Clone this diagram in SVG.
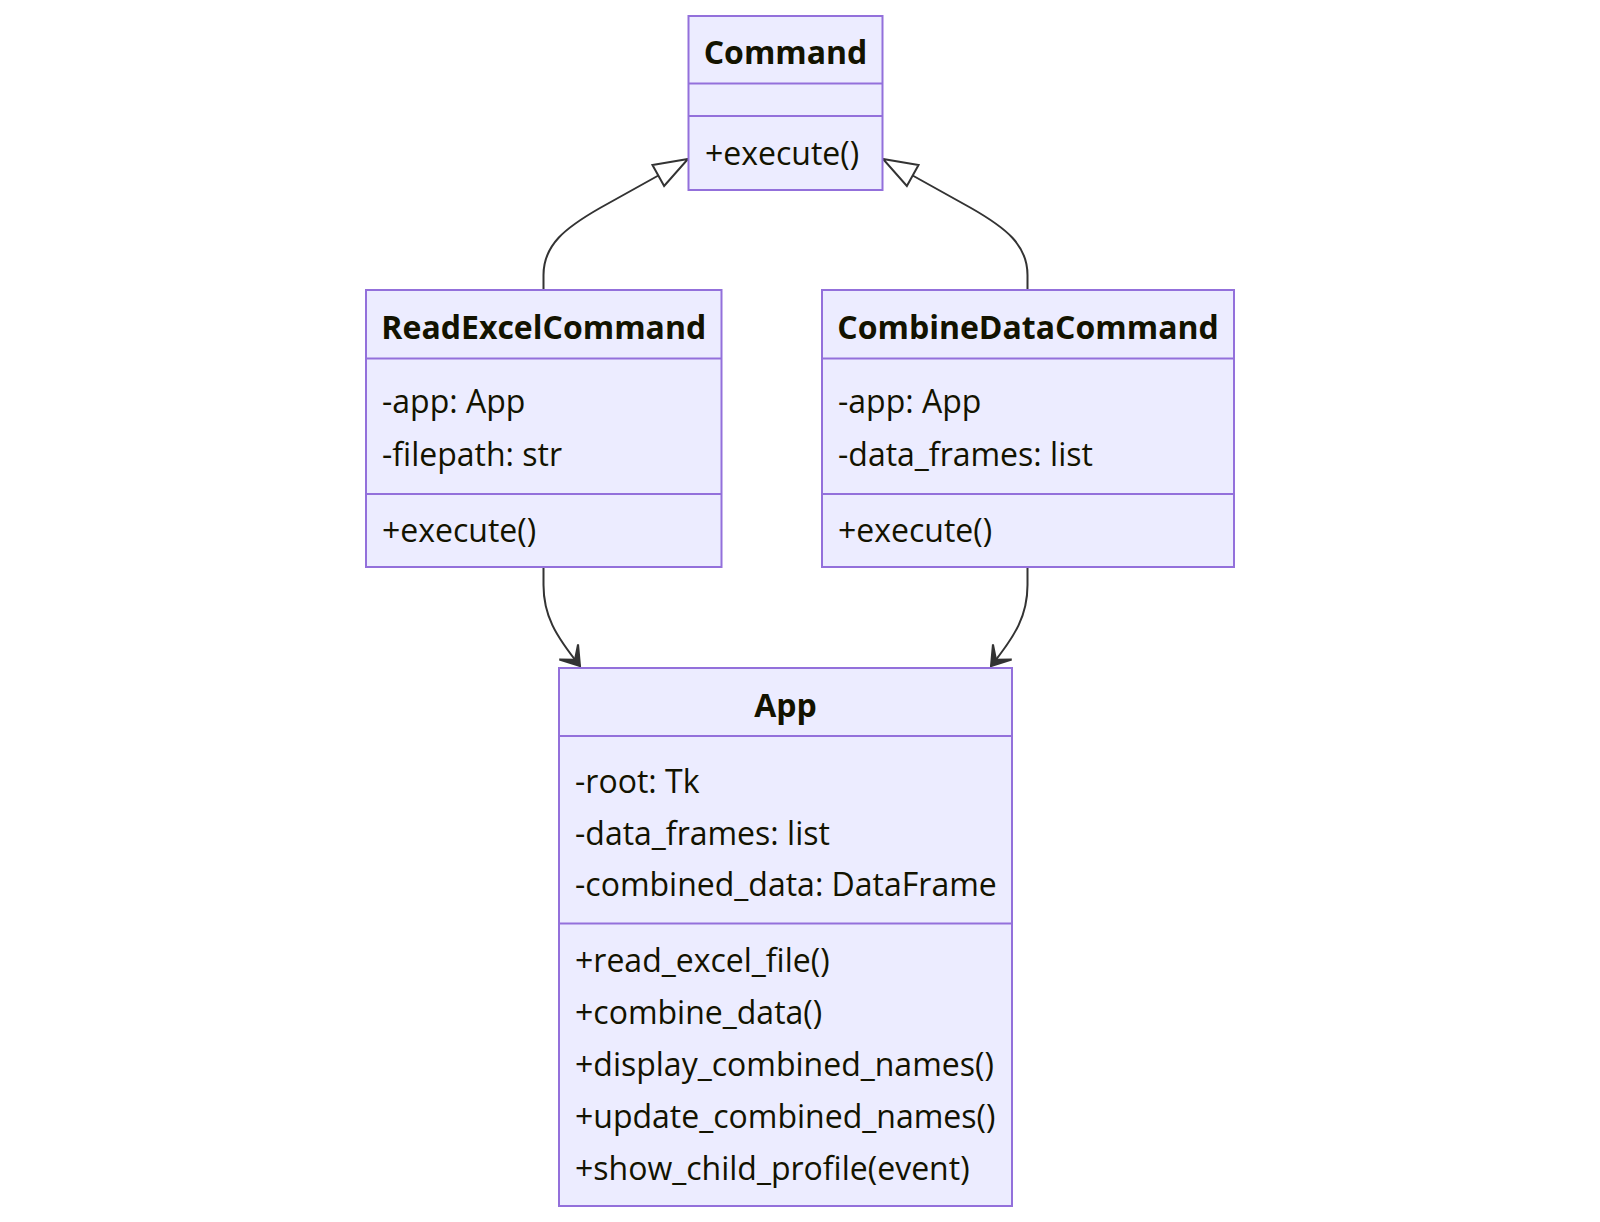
<svg xmlns="http://www.w3.org/2000/svg" width="1600" height="1222" viewBox="0 0 1600 1222">
  <style>
    .box { fill: #ECECFF; stroke: #9370DB; stroke-width: 2; }
    .div { stroke: #9370DB; stroke-width: 2; }
    .title { font-family: "Open Sans", "Noto Sans", sans-serif; font-size: 32px; font-weight: bold; fill: #131300; text-anchor: middle; }
    .member { font-family: "Open Sans", "Noto Sans", sans-serif; font-size: 32px; fill: #131300; }
    .edge { fill: none; stroke: #333333; stroke-width: 2; }
  </style>
  <defs>
    <marker id="extension" markerUnits="userSpaceOnUse" viewBox="0 0 20 14" refX="18" refY="7" markerWidth="40" markerHeight="28" orient="auto">
      <path d="M1,1 V13 L18,7 Z" fill="#ffffff" stroke="#333333" stroke-width="1"/>
    </marker>
    <marker id="dependency" markerUnits="userSpaceOnUse" viewBox="0 0 20 14" refX="18" refY="7" markerWidth="40" markerHeight="28" orient="auto">
      <path d="M18,7 L9,13 L14,7 L9,1 Z" fill="#333333" stroke="#333333" stroke-width="1"/>
    </marker>
  </defs>

  <rect width="1600" height="1222" fill="#ffffff"/>

  <!-- connectors -->
  <g id="edges">
    <path class="edge" d="M543.5,290 L543.5,275 C543.5,245 565,228 600,208 L688,159" marker-end="url(#extension)"/>
    <path class="edge" d="M1027.5,290 L1027.5,275 C1027.5,245 1006,228 971,208 L883,159" marker-end="url(#extension)"/>
    <path class="edge" d="M543.5,567 L543.5,585 C543.5,615 555,635 580,666" marker-end="url(#dependency)"/>
    <path class="edge" d="M1027.5,567 L1027.5,585 C1027.5,615 1016,635 991,666" marker-end="url(#dependency)"/>
  </g>

  <!-- Command -->
  <g id="Command">
    <rect class="box" x="688.5" y="16" width="194" height="174"/>
    <line class="div" x1="688.5" y1="83.5" x2="882.5" y2="83.5"/>
    <line class="div" x1="688.5" y1="116" x2="882.5" y2="116"/>
    <text class="title" x="785.5" y="64">Command</text>
    <text class="member" x="705" y="165">+execute()</text>
  </g>

  <!-- ReadExcelCommand -->
  <g id="ReadExcelCommand">
    <rect class="box" x="366" y="290" width="355.5" height="277"/>
    <line class="div" x1="366" y1="358.5" x2="721.5" y2="358.5"/>
    <line class="div" x1="366" y1="494" x2="721.5" y2="494"/>
    <text class="title" x="543.75" y="339">ReadExcelCommand</text>
    <text class="member" x="382" y="413">-app: App</text>
    <text class="member" x="382" y="466">-filepath: str</text>
    <text class="member" x="382" y="542">+execute()</text>
  </g>

  <!-- CombineDataCommand -->
  <g id="CombineDataCommand">
    <rect class="box" x="822" y="290" width="412" height="277"/>
    <line class="div" x1="822" y1="358.5" x2="1234" y2="358.5"/>
    <line class="div" x1="822" y1="494" x2="1234" y2="494"/>
    <text class="title" x="1028" y="339">CombineDataCommand</text>
    <text class="member" x="838" y="413">-app: App</text>
    <text class="member" x="838" y="466">-data_frames: list</text>
    <text class="member" x="838" y="542">+execute()</text>
  </g>

  <!-- App -->
  <g id="App">
    <rect class="box" x="559" y="668" width="453" height="538"/>
    <line class="div" x1="559" y1="736" x2="1012" y2="736"/>
    <line class="div" x1="559" y1="923.5" x2="1012" y2="923.5"/>
    <text class="title" x="785.5" y="717">App</text>
    <text class="member" x="575" y="793">-root: Tk</text>
    <text class="member" x="575" y="844.5">-data_frames: list</text>
    <text class="member" x="575" y="896">-combined_data: DataFrame</text>
    <text class="member" x="575" y="972">+read_excel_file()</text>
    <text class="member" x="575" y="1024">+combine_data()</text>
    <text class="member" x="575" y="1076">+display_combined_names()</text>
    <text class="member" x="575" y="1128">+update_combined_names()</text>
    <text class="member" x="575" y="1180">+show_child_profile(event)</text>
  </g>
</svg>
